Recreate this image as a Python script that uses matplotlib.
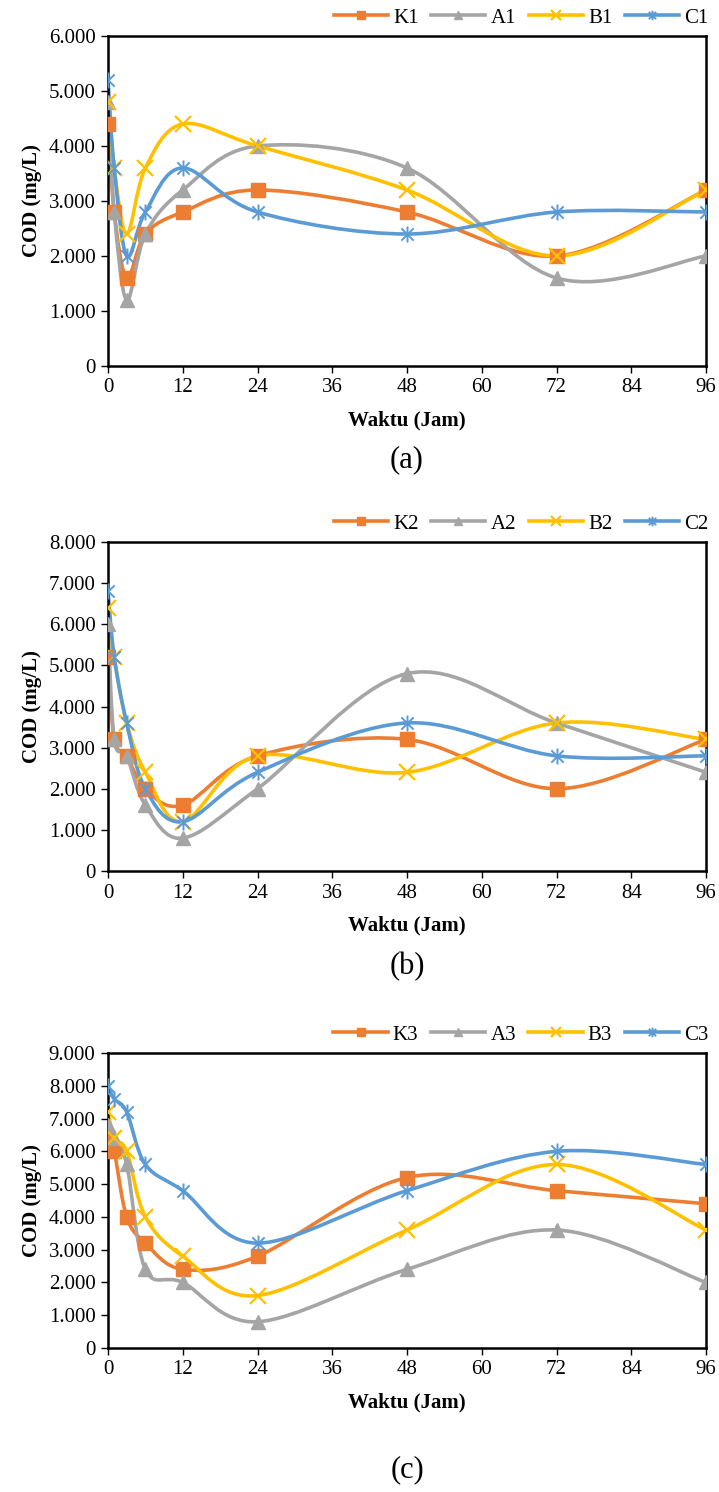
import numpy as np
import matplotlib
matplotlib.use("Agg")
import matplotlib.pyplot as plt
from matplotlib.path import Path
from matplotlib.patches import PathPatch
from matplotlib.lines import Line2D
from matplotlib.ticker import FuncFormatter

plt.rcParams['font.family'] = ['Liberation Serif', 'DejaVu Serif']

# sampling times (hours)
jam = [0, 1, 3, 6, 12, 24, 48, 72, 96]

# COD values (mg/L), one list per treatment
K1 = [4400, 2800, 1600, 2400, 2800, 3200, 2800, 2000, 3200]
A1 = [4800, 2800, 1200, 2400, 3200, 4000, 3600, 1600, 2000]
B1 = [4800, 3600, 2400, 3600, 4400, 4000, 3200, 2000, 3200]
C1 = [5200, 3600, 2000, 2800, 3600, 2800, 2400, 2800, 2800]

K2 = [5200, 3200, 2800, 2000, 1600, 2800, 3200, 2000, 3200]
A2 = [6000, 3200, 2800, 1600, 800, 2000, 4800, 3600, 2400]
B2 = [6400, 5200, 3600, 2400, 1200, 2800, 2400, 3600, 3200]
C2 = [6800, 5200, 3600, 2000, 1200, 2400, 3600, 2800, 2800]

K3 = [6400, 6000, 4000, 3200, 2400, 2800, 5200, 4800, 4400]
A3 = [6800, 6400, 5600, 2400, 2000, 800, 2400, 3600, 2000]
B3 = [7200, 6400, 6000, 4000, 2800, 1600, 3600, 5600, 3600]
C3 = [8000, 7600, 7200, 5600, 4800, 3200, 4800, 6000, 5600]

panels = [
    (["K1", "A1", "B1", "C1"], [K1, A1, B1, C1], 6000, "(a)"),
    (["K2", "A2", "B2", "C2"], [K2, A2, B2, C2], 8000, "(b)"),
    (["K3", "A3", "B3", "C3"], [K3, A3, B3, C3], 9000, "(c)"),
]

colors = ["#ED7D31", "#A5A5A5", "#FFC000", "#5B9BD5"]

# asterisk marker: an x with a vertical stroke
star = Path([(-1, -1), (1, 1), (-1, 1), (1, -1), (0, -1.3), (0, 1.3)],
            [Path.MOVETO, Path.LINETO, Path.MOVETO, Path.LINETO, Path.MOVETO, Path.LINETO])
markers = [dict(marker="s", ms=10), dict(marker="^", ms=10.5),
           dict(marker="x", ms=11, mew=1.6), dict(marker=star, ms=11.5, mew=1.4)]


def smooth_path(x, y):
    # Catmull-Rom style cubic Bezier through the points (like a smoothed line)
    p = np.column_stack([x, y]).astype(float)
    n = len(p)
    verts = [p[0]]
    codes = [Path.MOVETO]
    for i in range(n - 1):
        p0 = p[i - 1] if i > 0 else p[i]
        p3 = p[i + 2] if i + 2 < n else p[i + 1]
        c1 = p[i] + (p[i + 1] - p0) / 6.0
        c2 = p[i + 1] - (p3 - p[i]) / 6.0
        verts += [c1, c2, p[i + 1]]
        codes += [Path.CURVE4] * 3
    return Path(verts, codes)


W, H = 719, 1492
fig = plt.figure(figsize=(W / 100, H / 100), dpi=100)

# axes boxes in pixels: left, top, right, bottom
boxes = [(108, 36, 706, 366), (108, 542, 706, 871), (108, 1053, 706, 1348)]
caption_y = [460, 967, 1470]

fmt = FuncFormatter(lambda v, pos: "{:,.0f}".format(v).replace(",", "."))

for (names, series, ymax, cap), (l, t, r, b), cy in zip(panels, boxes, caption_y):
    ax = fig.add_axes([l / W, 1 - b / H, (r - l) / W, (b - t) / H])
    handles = []
    for name, vals, col, mk in zip(names, series, colors, markers):
        ax.add_patch(PathPatch(smooth_path(jam, vals), fill=False, edgecolor=col,
                               lw=2.6, capstyle="round", joinstyle="round", zorder=2))
        ax.plot(jam, vals, ls="none", color=col, mfc=col, mec=col, zorder=3, **mk)
        hmk = dict(mk)
        hmk["ms"] = mk["ms"] * 0.6
        handles.append(Line2D([], [], color=col, lw=2.6, mfc=col, mec=col, **hmk))
    ax.set_xlim(0, 96)
    ax.set_ylim(0, ymax)
    ax.set_xticks(np.arange(0, 97, 12))
    ax.set_yticks(np.arange(0, ymax + 1, 1000))
    ax.yaxis.set_major_formatter(fmt)
    for s in ax.spines.values():
        s.set_linewidth(1.8)
        s.set_color("black")
    ax.tick_params(direction="out", length=5, width=1, labelsize=15, pad=4)
    ax.set_xlabel("Waktu (Jam)", fontsize=15, fontweight="bold", labelpad=9)
    ax.set_ylabel("COD (mg/L)", fontsize=15, fontweight="bold", labelpad=5)
    ax.legend(handles=handles, labels=names, ncol=4, frameon=False, fontsize=15,
              loc="lower right", bbox_to_anchor=(1.018, 1.0), handlelength=2.6,
              columnspacing=0.6, handletextpad=0.25, borderaxespad=0)
    fig.text(0.5 * (l + r) / W, 1 - cy / H, cap, ha="center", va="center", fontsize=22)

fig.savefig("out.png", dpi=100)
